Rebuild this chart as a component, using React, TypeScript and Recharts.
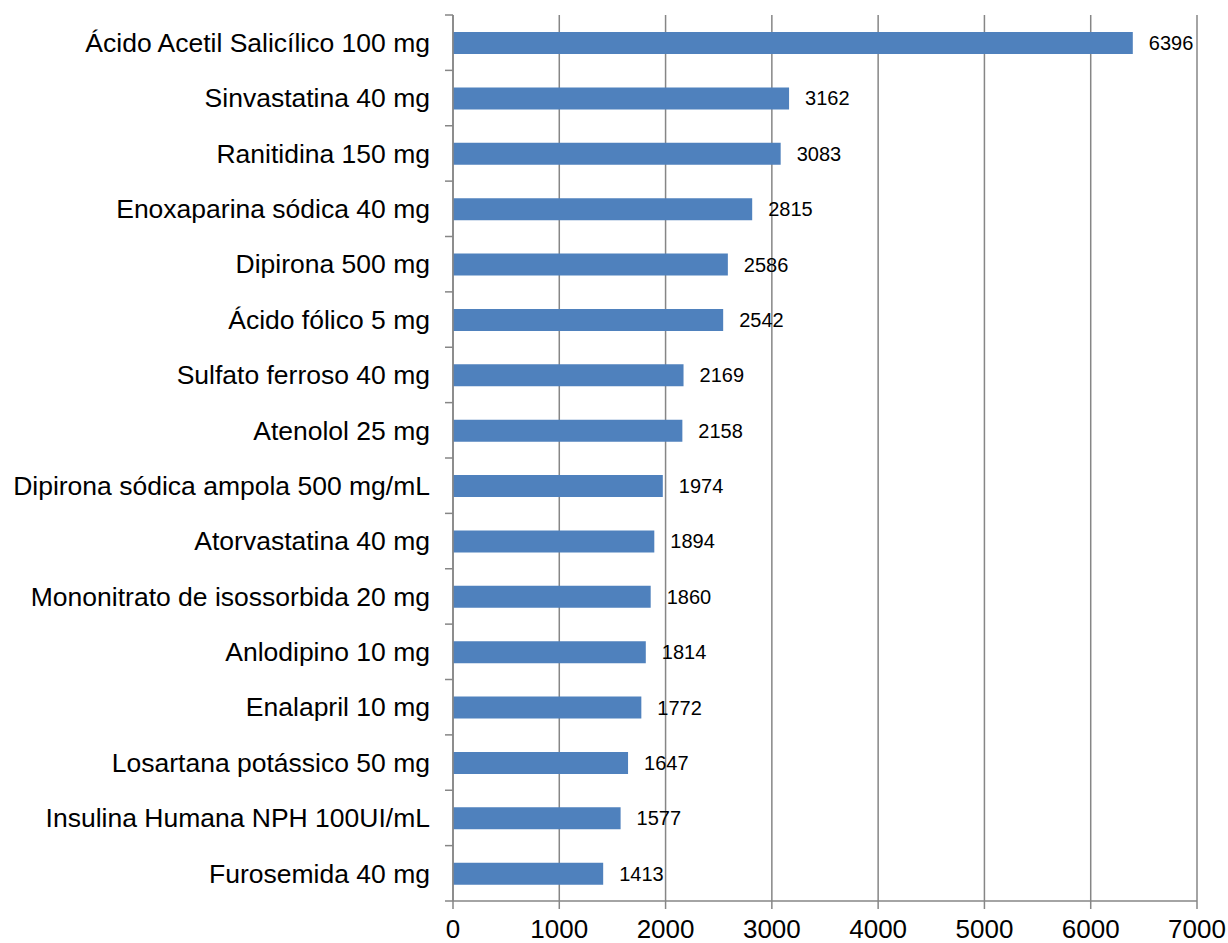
import React from "react";
import {
  Bar,
  BarChart,
  CartesianGrid,
  LabelList,
  XAxis,
  YAxis,
} from "recharts";

const medicines = [
  "Ácido Acetil Salicílico 100 mg",
  "Sinvastatina 40 mg",
  "Ranitidina 150 mg",
  "Enoxaparina sódica 40 mg",
  "Dipirona 500 mg",
  "Ácido fólico 5 mg",
  "Sulfato ferroso 40 mg",
  "Atenolol 25 mg",
  "Dipirona sódica ampola 500 mg/mL",
  "Atorvastatina 40 mg",
  "Mononitrato de isossorbida 20 mg",
  "Anlodipino 10 mg",
  "Enalapril 10 mg",
  "Losartana potássico 50 mg",
  "Insulina Humana NPH 100UI/mL",
  "Furosemida 40 mg",
];

const quantities = [
  6396, 3162, 3083, 2815, 2586, 2542, 2169, 2158, 1974, 1894, 1860, 1814,
  1772, 1647, 1577, 1413,
];

const xTicks = [0, 1000, 2000, 3000, 4000, 5000, 6000, 7000];

const data = medicines.map((name, i) => ({ name, value: quantities[i] }));

// layout constants
const WIDTH = 1228;
const HEIGHT = 943;
const MARGIN = { top: 15, right: 31, bottom: 0, left: 0 };
const Y_AXIS_W = 453;
const X_AXIS_H = 42;
const PLOT_H = HEIGHT - MARGIN.top - MARGIN.bottom - X_AXIS_H;
const BAND = PLOT_H / medicines.length;
const AXIS_X = MARGIN.left + Y_AXIS_W;
const GREY = "#868686";
const FONT = "'Liberation Sans', Arial, sans-serif";

// category label plus the small tick marks that sit between the categories
function CategoryTick(props: any) {
  const { x, y, payload } = props;
  const idx = medicines.indexOf(payload.value);
  const half = BAND / 2;
  return (
    <g>
      <line
        x1={AXIS_X - 8}
        x2={AXIS_X}
        y1={y - half}
        y2={y - half}
        stroke={GREY}
        strokeWidth={1.5}
      />
      {idx === medicines.length - 1 && (
        <line
          x1={AXIS_X - 8}
          x2={AXIS_X}
          y1={y + half}
          y2={y + half}
          stroke={GREY}
          strokeWidth={1.5}
        />
      )}
      <text
        x={x}
        y={y}
        dy="0.35em"
        textAnchor="end"
        fontSize={26.5}
        fontFamily={FONT}
        fill="#000"
      >
        {payload.value}
      </text>
    </g>
  );
}

export default function App() {
  return (
    <div style={{ position: "absolute", left: 0, top: 0, background: "#fff" }}>
      <BarChart
        width={WIDTH}
        height={HEIGHT}
        data={data}
        layout="vertical"
        margin={MARGIN}
      >
        <CartesianGrid
          horizontal={false}
          vertical={true}
          stroke={GREY}
          strokeWidth={1.5}
        />
        <XAxis
          type="number"
          domain={[0, 7000]}
          ticks={xTicks}
          interval={0}
          height={X_AXIS_H}
          stroke={GREY}
          strokeWidth={1.5}
          tickSize={8}
          tickMargin={11}
          tick={{ fontSize: 26, fill: "#000", fontFamily: FONT }}
        />
        <YAxis
          type="category"
          dataKey="name"
          width={Y_AXIS_W}
          stroke={GREY}
          strokeWidth={1.5}
          tickLine={false}
          tickSize={8}
          tickMargin={15}
          interval={0}
          tick={<CategoryTick />}
        />
        <Bar
          dataKey="value"
          fill="#4F81BD"
          barSize={22}
          isAnimationActive={false}
        >
          <LabelList
            dataKey="value"
            position="right"
            offset={16}
            fill="#000"
            fontSize={20}
            fontFamily={FONT}
          />
        </Bar>
      </BarChart>
    </div>
  );
}
